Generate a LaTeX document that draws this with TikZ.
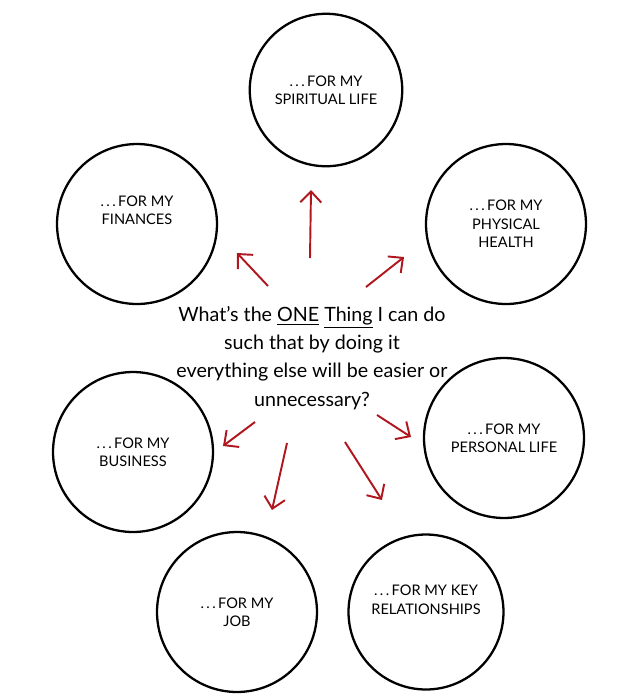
\documentclass[tikz,border=0pt]{standalone}
\usepackage{fontspec}
\setmainfont{Lato}
\usetikzlibrary{arrows.meta,positioning,calc}
\definecolor{arrowred}{RGB}{175,22,30}

\begin{document}
\begin{tikzpicture}[
    x=0.02cm, y=-0.02cm,
    area/.style={draw, circle, line width=1.3pt, minimum size=3.2cm, align=center, font=\fontsize{8.3}{10.5}\selectfont},
    arrow/.style={draw, arrowred, line width=1.1pt, -{Straight Barb[length=2.2mm,width=4.2mm]}}
]
    \useasboundingbox (0,0) rectangle (640,698);

    % Life areas
    \node[area, minimum size=3.05cm] (spiritual) at (326,90) {.\,.\,.\,FOR MY\\SPIRITUAL LIFE};
    \node[area] (finances) at (137,224) {.\,.\,.\,FOR MY\\FINANCES\\[0.6em]};
    \node[area] (physical) at (506,224) {.\,.\,.\,FOR MY\\PHYSICAL\\HEALTH};
    \node[area] (business) at (133,452) {.\,.\,.\,FOR MY\\BUSINESS};
    \node[area] (personal) at (504,438) {.\,.\,.\,FOR MY\\PERSONAL LIFE};
    \node[area] (job) at (237,612) {.\,.\,.\,FOR MY\\JOB};
    \node[area, minimum size=3.1cm] (key) at (426,612) {.\,.\,.\,FOR MY KEY\\RELATIONSHIPS\\[0.4em]};

    % The question
    \node[align=center, font=\fontsize{11.2}{16}\selectfont] (question) at (312,358)
        {What's the \underline{ONE} \underline{Thing} I can do\\such that by doing it\\everything else will be easier or\\unnecessary?};

    % Arrow ends
    \coordinate (up_s) at (310,258);   \coordinate (up_e) at (311,190);
    \coordinate (ul_s) at (268,286);   \coordinate (ul_e) at (237,253);
    \coordinate (ur_s) at (366,287);   \coordinate (ur_e) at (404,257);
    \coordinate (dl_s) at (255,422);   \coordinate (dl_e) at (223,446);
    \coordinate (dj_s) at (287,443);   \coordinate (dj_e) at (272,510);
    \coordinate (dk_s) at (345,442);   \coordinate (dk_e) at (382,500);
    \coordinate (dr_s) at (377,415);   \coordinate (dr_e) at (411,437);

    % Arrows
    \path[arrow] (up_s) -- (up_e);
    \path[arrow] (ul_s) -- (ul_e);
    \path[arrow] (ur_s) -- (ur_e);
    \path[arrow] (dl_s) -- (dl_e);
    \path[arrow] (dj_s) -- (dj_e);
    \path[arrow] (dk_s) -- (dk_e);
    \path[arrow] (dr_s) -- (dr_e);

\end{tikzpicture}
\end{document}
